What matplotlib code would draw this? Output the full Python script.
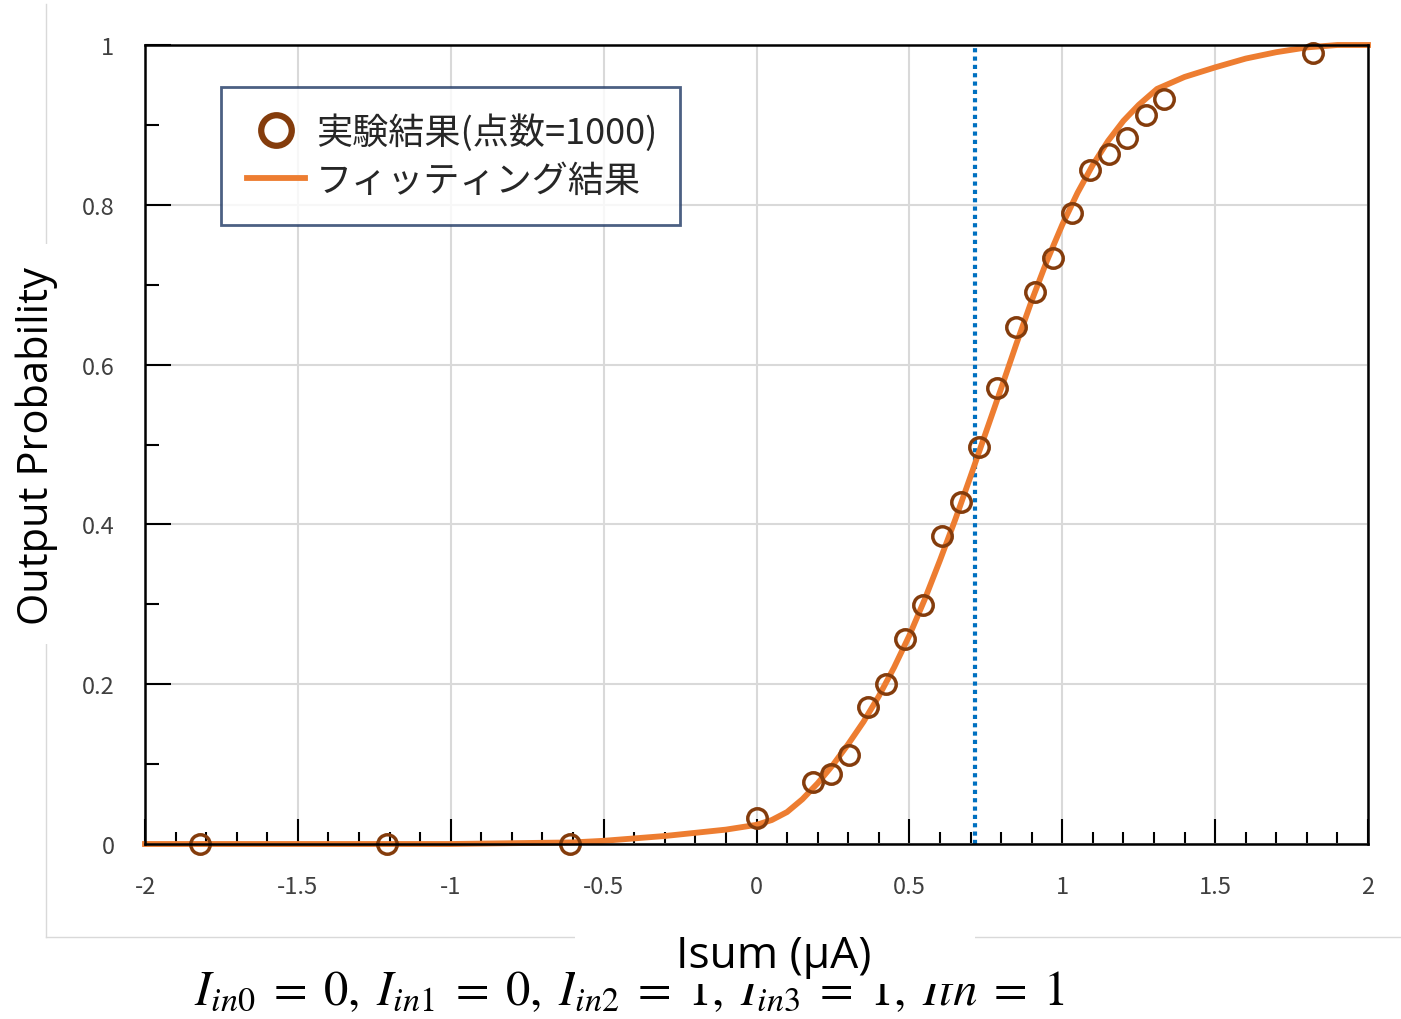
import matplotlib
matplotlib.use("Agg")
import matplotlib.pyplot as plt
from matplotlib.lines import Line2D
from matplotlib.patches import Rectangle
from matplotlib.ticker import MultipleLocator

plt.rcParams['axes.unicode_minus'] = False
plt.rcParams['mathtext.fontset'] = 'stix'

# measured points (Isum in uA, output probability)
exp_x = [-1.82, -1.21, -0.61, 0.0, 0.185, 0.243, 0.302, 0.364, 0.424, 0.485, 0.545,
         0.607, 0.669, 0.727, 0.786, 0.849, 0.911, 0.970, 1.032, 1.091, 1.153,
         1.212, 1.274, 1.334, 1.821]
exp_y = [0.0, 0.0, 0.0, 0.033, 0.078, 0.088, 0.112, 0.171, 0.200, 0.257, 0.299,
         0.385, 0.428, 0.497, 0.571, 0.647, 0.691, 0.734, 0.790, 0.843, 0.864,
         0.883, 0.912, 0.932, 0.990]

# fitted curve
fit_x = [-2.0, -1.5, -1.0, -0.8, -0.6, -0.5, -0.4, -0.3, -0.2, -0.1, 0.0, 0.05, 0.1,
         0.15, 0.2, 0.25, 0.3, 0.35, 0.4, 0.45, 0.5, 0.55, 0.6, 0.65, 0.7, 0.75,
         0.8, 0.85, 0.9, 0.95, 1.0, 1.05, 1.1, 1.15, 1.2, 1.25, 1.31, 1.4, 1.5,
         1.6, 1.7, 1.8, 1.9, 2.0]
fit_y = [0.0, 0.0, 0.0, 0.001, 0.002, 0.004, 0.007, 0.010, 0.014, 0.018, 0.024,
         0.030, 0.040, 0.056, 0.076, 0.099, 0.125, 0.153, 0.185, 0.221, 0.261,
         0.306, 0.355, 0.406, 0.460, 0.515, 0.570, 0.626, 0.680, 0.730, 0.775,
         0.815, 0.850, 0.880, 0.905, 0.925, 0.945, 0.960, 0.972, 0.983, 0.991,
         0.997, 1.0, 1.0]

threshold_x = 0.715

xticks = [-2, -1.5, -1, -0.5, 0, 0.5, 1, 1.5, 2]
xtick_labels = ['-2', '-1.5', '-1', '-0.5', '0', '0.5', '1', '1.5', '2']
yticks = [0, 0.2, 0.4, 0.6, 0.8, 1]
ytick_labels = ['0', '0.2', '0.4', '0.6', '0.8', '1']

legend_labels = ['実験結果(点数=1000)', 'フィッティング結果']
formula = (r'$I_{in0}\;=\;0,\;I_{in1}\;=\;0,\;I_{in2}\;=\;1,\;I_{in3}\;=\;1,'
           r'\;Ith\;=\;1$')

W, H = 1401, 1020
fig = plt.figure(figsize=(W / 100, H / 100), dpi=100)
ax = fig.add_axes([145 / W, 1 - 845 / H, (1368 - 145) / W, (845 - 46) / H])

ax.grid(True, color='#d9d9d9', linewidth=1.5, zorder=0)
ax.plot(fit_x, fit_y, color='#ed7d31', linewidth=4.2, zorder=3, clip_on=False)
ax.plot(exp_x, exp_y, linestyle='none', marker='o', markersize=14,
        markerfacecolor='none', markeredgecolor='#843c0c', markeredgewidth=2.5,
        zorder=4, clip_on=False)
ax.plot([threshold_x, threshold_x], [0, 1], color='#0070c0', linewidth=3,
        linestyle=(0, (1, 1)), zorder=2)

ax.set_xlim(-2, 2)
ax.set_ylim(0, 1)
ax.set_xticks(xticks)
ax.set_xticklabels(xtick_labels)
ax.set_yticks(yticks)
ax.set_yticklabels(ytick_labels)
ax.xaxis.set_minor_locator(MultipleLocator(0.1))
ax.yaxis.set_minor_locator(MultipleLocator(0.1))
ax.tick_params(axis='x', which='major', direction='in', length=18, width=1.5,
               pad=22, labelsize=17, labelcolor='#404040')
ax.tick_params(axis='x', which='minor', direction='in', length=9, width=1.5)
ax.tick_params(axis='y', which='major', direction='in', length=19, width=1.5,
               pad=22, labelsize=17, labelcolor='#404040')
ax.tick_params(axis='y', which='minor', direction='in', length=10, width=1.5)
for lab in ax.get_xticklabels() + ax.get_yticklabels():
    lab.set_fontfamily(['Noto Sans CJK JP', 'DejaVu Sans'])
for sp in ax.spines.values():
    sp.set_linewidth(1.8)
    sp.set_color('black')
    sp.set_zorder(5)

handles = [Line2D([], [], linestyle='none', marker='o', markersize=22,
                  markerfacecolor='none', markeredgecolor='#843c0c', markeredgewidth=4.5),
           Line2D([], [], color='#ed7d31', linewidth=4.2)]
leg = ax.legend(handles, legend_labels, loc='upper left',
                bbox_to_anchor=((221 - 145) / 1223, (845 - 224) / 799, 459 / 1223, 136 / 799),
                mode='expand', prop={'family': ['Noto Sans CJK JP', 'DejaVu Sans'], 'size': 26},
                frameon=True, fancybox=False, borderpad=0.72, handlelength=1.6,
                handletextpad=0.3, labelspacing=0.33, borderaxespad=0)
leg.get_frame().set_edgecolor('#1f3864')
leg.get_frame().set_linewidth(2)
for t in leg.get_texts():
    t.set_color('#262626')
leg.set_zorder(6)

# slide decorations: grey chart border, covered in places by label boxes
fig.add_artist(Line2D([46 / W, 46 / W], [1 - 5 / H, 1 - 938 / H], color='#d9d9d9',
                      linewidth=1, zorder=1))
fig.add_artist(Line2D([46 / W, 1], [1 - 938 / H, 1 - 938 / H], color='#d9d9d9',
                      linewidth=1, zorder=1))
fig.text(629 / W, 1 - 1005 / H, formula, ha='center', va='baseline', fontsize=35,
         zorder=1)
fig.add_artist(Rectangle((575 / W, 1 - 985 / H), 400 / W, 50 / H, facecolor='white',
                         edgecolor='none', zorder=2))
fig.add_artist(Rectangle((10 / W, 1 - 645 / H), 65 / W, 400 / H, facecolor='white',
                         edgecolor='none', zorder=2))
fig.text(774 / W, 1 - 957 / H, 'Isum (μA)', ha='center', va='center', fontsize=32,
         family='Open Sans', zorder=3)
fig.text(37 / W, 1 - 446 / H, 'Output Probability', ha='center', va='center',
         rotation=90, fontsize=30, family='Open Sans', zorder=3)

fig.savefig('out.png', dpi=100)
